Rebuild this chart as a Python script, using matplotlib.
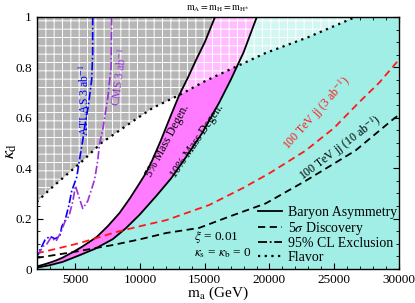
import numpy as np
import matplotlib.pyplot as plt
from matplotlib.patches import Polygon
from matplotlib.lines import Line2D
from matplotlib.ticker import MultipleLocator

plt.rcParams['font.family'] = ['Liberation Serif', 'DejaVu Serif']
plt.rcParams['mathtext.fontset'] = 'stix'
plt.rcParams['hatch.linewidth'] = 0.7

# baryon asymmetry curves (5% and 10% mass degeneracy)
c5_x = [2000, 2500, 3000, 3500, 4000, 4800, 5500, 6000, 6640, 7500, 8400, 9200, 9950,
        10500, 10950, 11600, 12300, 13020, 13700, 14330, 15000, 15790]
c5_y = [0.01, 0.017, 0.025, 0.034, 0.045, 0.067, 0.088, 0.105, 0.127, 0.17, 0.222, 0.28, 0.34,
        0.385, 0.433, 0.51, 0.60, 0.69, 0.76, 0.83, 0.90, 1.0]
c10_x = [2000, 3000, 4000, 5330, 6500, 7870, 8900, 9950, 11250, 12400, 13560, 14800, 16110,
         17000, 18000, 19020]
c10_y = [0.005, 0.015, 0.028, 0.055, 0.08, 0.118, 0.162, 0.215, 0.29, 0.36, 0.445, 0.54, 0.66,
         0.75, 0.86, 1.0]

# flavor bound
flav_x = [2000, 3000, 4560, 5570, 7000, 9400, 11000, 13020, 15000, 16870, 19700, 23000, 26650]
flav_y = [0.266, 0.315, 0.385, 0.43, 0.50, 0.585, 0.64, 0.69, 0.745, 0.79, 0.857, 0.92, 1.0]

# 100 TeV jj discovery
jj3_x = [2000, 3500, 5330, 8180, 10000, 12030, 14560, 15340, 17900, 20000, 22800, 25000, 26900, 28500, 30000]
jj3_y = [0.062, 0.08, 0.103, 0.147, 0.17, 0.194, 0.24, 0.254, 0.32, 0.38, 0.47, 0.56, 0.66, 0.74, 0.83]
jj10_x = [2000, 4800, 7870, 10000, 12030, 14560, 17000, 19700, 22800, 26650, 29700, 30000]
jj10_y = [0.044, 0.067, 0.095, 0.118, 0.143, 0.163, 0.21, 0.26, 0.35, 0.47, 0.60, 0.61]

# LHC exclusions
atlas_x = [6330, 6330, 6250, 6000, 5700, 5560, 5330, 5100, 4710, 4480, 4180, 3950, 3790, 3410, 3020, 2640, 2250, 2100]
atlas_y = [1.0, 0.85, 0.75, 0.65, 0.56, 0.51, 0.44, 0.365, 0.31, 0.25, 0.19, 0.17, 0.13, 0.12, 0.13, 0.115, 0.075, 0.055]
cms_x = [7800, 7750, 7500, 7100, 6870, 6720, 6480, 5950, 5560, 5180, 5000, 4800, 4500, 4200, 3900, 3500, 3100, 2800, 2500, 2150]
cms_y = [1.0, 0.8, 0.68, 0.55, 0.5, 0.43, 0.355, 0.27, 0.24, 0.3, 0.33, 0.27, 0.21, 0.19, 0.15, 0.11, 0.125, 0.1, 0.09, 0.06]

xmin, xmax = 2000, 30000

fig = plt.figure(figsize=(4.15, 3.03), dpi=100)
ax = fig.add_axes([0.0884, 0.1122, 0.8725, 0.8317])
ax.set_xlim(xmin, xmax)
ax.set_ylim(0, 1)

magenta = '#ff7bff'
cyan = '#a0eee6'

c5 = list(zip(c5_x, c5_y))
c10 = list(zip(c10_x, c10_y))
white_poly = c5 + [(xmin, 1.0)]
mag_poly = c5 + c10[::-1]
cyan_poly = c10 + [(xmax, 1.0), (xmax, 0), (xmin, 0)]
flav_poly = list(zip(flav_x, flav_y)) + [(xmin, 1.0)]

ax.add_patch(Polygon(mag_poly, closed=True, fc=magenta, ec='none', zorder=1))
ax.add_patch(Polygon(cyan_poly, closed=True, fc=cyan, ec='none', zorder=1))

# flavor excluded region: shaded differently over each background
for region, col in [(white_poly, '#b6b6b6'), (mag_poly, '#ffbcff'), (cyan_poly, '#d2f6f2')]:
    clip = Polygon(region, closed=True, fc='none', ec='none', transform=ax.transData)
    p = Polygon(flav_poly, closed=True, fc=col, ec='none', zorder=2)
    ax.add_patch(p)
    p.set_clip_path(clip)
ax.add_patch(Polygon(flav_poly, closed=True, fc='none', ec='white', lw=0, hatch='++', zorder=2))

ax.plot(c5_x, c5_y, color='black', lw=1.3, zorder=4)
ax.plot(c10_x, c10_y, color='black', lw=1.3, zorder=4)
ax.plot(flav_x, flav_y, color='black', lw=1.6, ls=(0, (1, 2)), zorder=4)
ax.plot(jj3_x, jj3_y, color='#ff1a1a', lw=1.3, ls=(0, (4, 2.5)), zorder=4)
ax.plot(jj10_x, jj10_y, color='black', lw=1.3, ls=(0, (4, 2.5)), zorder=4)
ax.plot(atlas_x, atlas_y, color='#0000ff', lw=1.2, ls=(0, (5, 1.5, 1, 1.5)), zorder=4)
ax.plot(cms_x, cms_y, color='#9b30d9', lw=1.2, ls=(0, (5, 1.5, 1, 1.5)), zorder=4)

ax.text(12100, 0.51, '5% Mass Degen.', rotation=62, fontsize=8.5, ha='center', va='center', zorder=5)
ax.text(14420, 0.51, '10% Mass Degen.', rotation=56, fontsize=8.5, ha='center', va='center', zorder=5)
ax.text(5720, 0.67, 'ATLAS 3 ab$^{-1}$', rotation=90, fontsize=8.5, color='#0000ff',
        ha='center', va='center', zorder=5)
ax.text(8410, 0.76, 'CMS 3 ab$^{-1}$', rotation=82, fontsize=8.5, color='#9b30d9',
        ha='center', va='center', zorder=5)
ax.text(23700, 0.615, '100 TeV jj (3 ab$^{-1}$)', rotation=48, fontsize=8.5, color='#ff1a1a',
        ha='center', va='center', zorder=5)
ax.text(25500, 0.48, '100 TeV jj (10 ab$^{-1}$)', rotation=37, fontsize=8.5,
        ha='center', va='center', zorder=5)
ax.text(14200, 0.128, r'$\xi$ = 0.01', fontsize=9.5, ha='left', va='center', zorder=5)
ax.text(14200, 0.062, r'$\kappa_{\rm s}$ = $\kappa_{\rm b}$ = 0', fontsize=9.5, ha='left', va='center', zorder=5)

handles = [Line2D([], [], color='black', lw=1.3, ls='-'),
           Line2D([], [], color='black', lw=1.3, ls=(0, (4, 2.5))),
           Line2D([], [], color='black', lw=1.3, ls=(0, (5, 1.5, 1, 1.5))),
           Line2D([], [], color='black', lw=1.6, ls=(0, (1, 2)))]
labels = ['Baryon Asymmetry', r'5$\sigma$ Discovery', '95% CL Exclusion', 'Flavor']
ax.legend(handles, labels, loc='lower left', bbox_to_anchor=(0.611, 0.02), frameon=False,
          fontsize=10, borderpad=0, borderaxespad=0, handlelength=1.75, handletextpad=0.4,
          labelspacing=0.05)

ax.set_title(r'$\mathrm{m_A = m_H = m_{H^{\pm}}}$', fontsize=7, pad=5)
ax.set_xlabel(r'$\mathrm{m_a}$ (GeV)', fontsize=11)
ax.xaxis.set_label_coords(0.5, -0.062)
ax.set_ylabel(r'$\kappa_{\rm d}$', fontsize=13)
ax.yaxis.set_label_coords(-0.05, 0.47)

ax.xaxis.set_major_locator(MultipleLocator(5000))
ax.xaxis.set_minor_locator(MultipleLocator(1000))
ax.yaxis.set_major_locator(MultipleLocator(0.2))
ax.yaxis.set_minor_locator(MultipleLocator(0.05))
ax.set_yticks([0, 0.2, 0.4, 0.6, 0.8, 1.0])
ax.set_yticklabels(['0', '0.2', '0.4', '0.6', '0.8', '1'])
ax.tick_params(which='both', direction='in', top=True, right=True, labelsize=9.5)
ax.tick_params(which='major', length=4)
ax.tick_params(which='minor', length=2)
for s in ax.spines.values():
    s.set_linewidth(1.0)
    s.set_zorder(6)

fig.savefig('out.png', dpi=100)
